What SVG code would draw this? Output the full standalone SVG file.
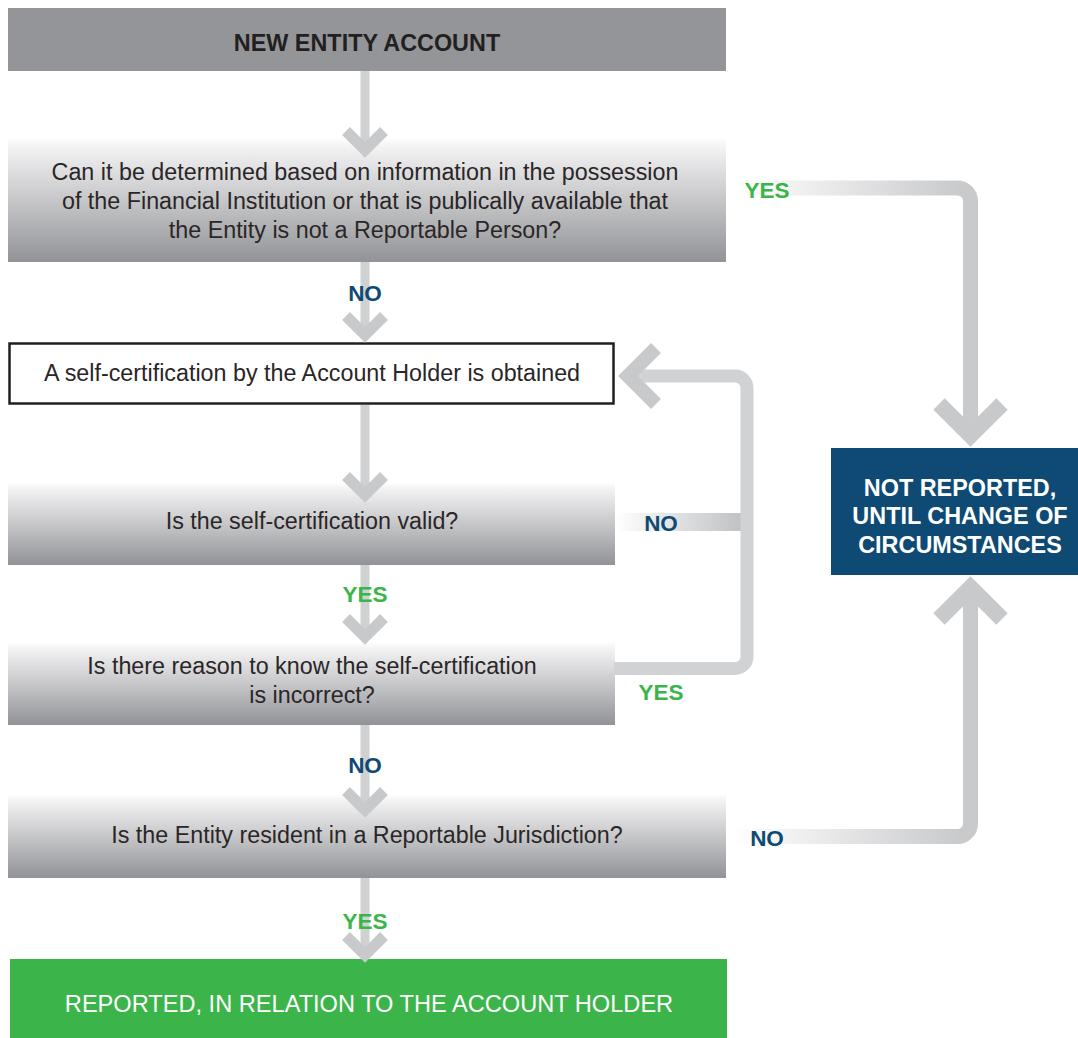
<svg xmlns="http://www.w3.org/2000/svg" width="1078" height="1038" viewBox="0 0 1078 1038">
  <defs>
    <!-- vertical white-to-grey fill used by the question boxes -->
    <linearGradient id="boxFade" x1="0" y1="0" x2="0" y2="1">
      <stop offset="0" stop-color="#ffffff"/>
      <stop offset="0.08" stop-color="#f3f3f4"/>
      <stop offset="1" stop-color="#929397"/>
    </linearGradient>
    <!-- horizontal fades for the side connectors -->
    <linearGradient id="fadeYes" gradientUnits="userSpaceOnUse" x1="738" y1="0" x2="960" y2="0">
      <stop offset="0" stop-color="#ffffff"/>
      <stop offset="1" stop-color="#c9cacc"/>
    </linearGradient>
    <linearGradient id="fadeNoBottom" gradientUnits="userSpaceOnUse" x1="733" y1="0" x2="960" y2="0">
      <stop offset="0" stop-color="#ffffff"/>
      <stop offset="1" stop-color="#c9cacc"/>
    </linearGradient>
    <linearGradient id="fadeNoMid" gradientUnits="userSpaceOnUse" x1="615" y1="0" x2="741" y2="0">
      <stop offset="0" stop-color="#ffffff"/>
      <stop offset="1" stop-color="#c1c2c4"/>
    </linearGradient>
  </defs>
  <style>
    text { font-family: "Liberation Sans", Arial, sans-serif; text-anchor: middle; }
    .q { font-size: 23.3px; fill: #2a2627; }
    .caps { font-size: 23.4px; }
    .title { font-weight: bold; fill: #231f20; }
    .white { fill: #ffffff; }
    .green-caps { font-size: 23.6px; }
    .lbl { font-size: 22.5px; font-weight: bold; }
    .yes { fill: #3bb54a; }
    .no { fill: #0e4a73; }
    .stem { stroke: #d0d1d3; stroke-width: 9; fill: none; }
    .chev { stroke: #c8c9cb; stroke-width: 11; fill: none; stroke-linejoin: miter; stroke-miterlimit: 10; }
    .bigchev { stroke: #c8c9cb; stroke-width: 16; fill: none; stroke-linejoin: miter; stroke-miterlimit: 10; }
    .loop { stroke: #d1d2d4; stroke-width: 13; fill: none; }
  </style>

  <!-- nodes -->
  <g id="new-entity-account">
    <rect x="8" y="8" width="718" height="63" fill="#939598"/>
    <text class="caps title" x="367" y="51">NEW ENTITY ACCOUNT</text>
  </g>

  <g id="q-not-reportable">
    <rect x="8" y="137" width="718" height="125" fill="url(#boxFade)"/>
    <text class="q" x="365" y="180">Can it be determined based on information in the possession</text>
    <text class="q" x="365" y="209">of the Financial Institution or that is publically available that</text>
    <text class="q" x="365" y="238">the Entity is not a Reportable Person?</text>
  </g>

  <g id="self-cert-obtained">
    <rect x="9.5" y="343.5" width="604" height="60" fill="#ffffff" stroke="#231f20" stroke-width="2.5"/>
    <text class="q" x="312" y="381">A self-certification by the Account Holder is obtained</text>
  </g>

  <g id="q-valid">
    <rect x="8" y="482" width="607" height="83" fill="url(#boxFade)"/>
    <text class="q" x="312" y="529">Is the self-certification valid?</text>
  </g>

  <g id="q-incorrect">
    <rect x="8" y="642" width="607" height="83" fill="url(#boxFade)"/>
    <text class="q" x="312" y="674">Is there reason to know the self-certification</text>
    <text class="q" x="312" y="703">is incorrect?</text>
  </g>

  <g id="q-resident">
    <rect x="8" y="794" width="718" height="84" fill="url(#boxFade)"/>
    <text class="q" x="367" y="843">Is the Entity resident in a Reportable Jurisdiction?</text>
  </g>

  <g id="not-reported">
    <rect x="831" y="448" width="247" height="127" fill="#0e4a73"/>
    <text class="caps title white" x="960" y="496">NOT REPORTED,</text>
    <text class="caps title white" x="960" y="524">UNTIL CHANGE OF</text>
    <text class="caps title white" x="960" y="553">CIRCUMSTANCES</text>
  </g>

  <g id="reported">
    <rect x="10" y="959" width="717" height="79" fill="#3bb54a"/>
    <text class="green-caps white" x="369" y="1012">REPORTED, IN RELATION TO THE ACCOUNT HOLDER</text>
  </g>

  <!-- connectors -->
  <g id="connectors">
    <!-- main vertical flow -->
    <line class="stem" x1="365" y1="71" x2="365" y2="152"/>
    <path class="chev" d="M346,131 L365,150 L384,131"/>

    <line class="stem" x1="365" y1="262" x2="365" y2="336"/>
    <path class="chev" d="M346,316 L365,335 L384,316"/>

    <line class="stem" x1="365" y1="405" x2="365" y2="496"/>
    <path class="chev" d="M346,476 L365,495 L384,476"/>

    <line class="stem" x1="365" y1="565" x2="365" y2="638"/>
    <path class="chev" d="M346,618 L365,637 L384,618"/>

    <line class="stem" x1="365" y1="725" x2="365" y2="811"/>
    <path class="chev" d="M346,791 L365,810 L384,791"/>

    <line class="stem" x1="365" y1="878" x2="365" y2="956"/>
    <path class="chev" d="M346,936 L365,955 L384,936"/>

    <!-- YES: not a reportable person -->
    <path d="M738,188 H957 A13,13 0 0 1 970.5,201 V434" stroke="url(#fadeYes)" stroke-width="15" fill="none"/>
    <path class="bigchev" d="M939,404 L970.5,435.5 L1002,404"/>

    <!-- NO: not resident in a reportable jurisdiction -->
    <path d="M733,836.5 H957 A13,13 0 0 0 970.5,823 V589" stroke="url(#fadeNoBottom)" stroke-width="15" fill="none"/>
    <path class="bigchev" d="M939,619 L970.5,587.5 L1002,619"/>

    <!-- loop back to self-certification -->
    <rect x="615" y="513" width="126" height="18" fill="url(#fadeNoMid)"/>
    <path class="loop" d="M614,668.5 H735 A12,12 0 0 0 747,656.5 V388 A12,12 0 0 0 735,376 H630"/>
    <path class="chev" style="stroke-width:14" d="M656,348 L628,376 L656,404"/>

    <!-- branch labels -->
    <text class="lbl yes" x="767" y="198">YES</text>
    <text class="lbl no" x="365" y="301">NO</text>
    <text class="lbl no" x="661" y="531">NO</text>
    <text class="lbl yes" x="365" y="602">YES</text>
    <text class="lbl yes" x="661" y="700">YES</text>
    <text class="lbl no" x="365" y="773">NO</text>
    <text class="lbl no" x="767" y="846">NO</text>
    <text class="lbl yes" x="365" y="929">YES</text>
  </g>
</svg>
